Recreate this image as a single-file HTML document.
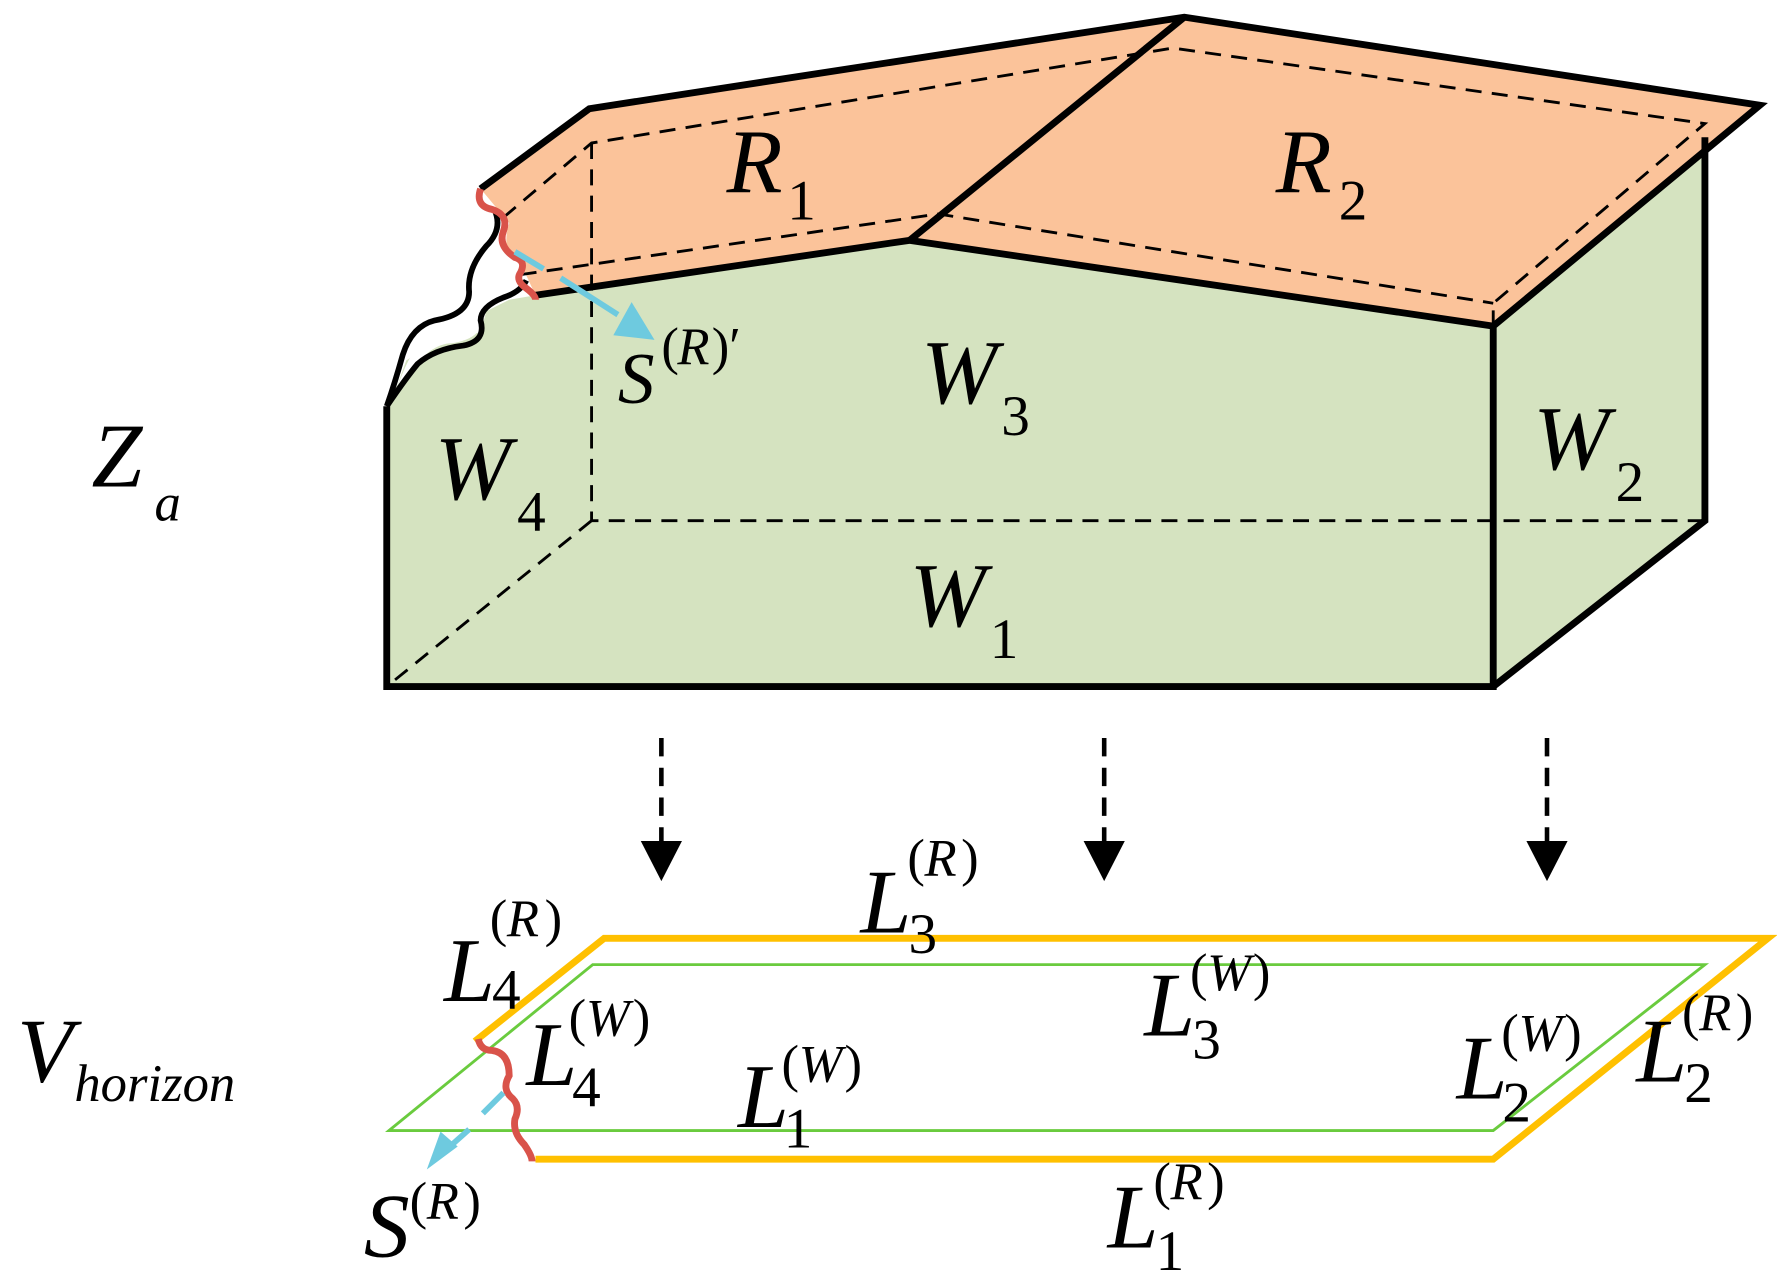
<!DOCTYPE html>
<html><head><meta charset="utf-8"><style>
html,body{margin:0;padding:0;background:#fff;}
svg{display:block;}
.m{font-style:italic;font-size:80px;}
.s{font-size:50px;}
.si{font-style:italic;font-size:46px;}
.sp{font-size:46px;}
</style></head><body>
<svg width="1777" height="1273" viewBox="0 0 1553 1112.5" preserveAspectRatio="none">
<polygon points="338,355 338,600 1305,600 1490,455 1490,118 1305,285 795,210 468,258 445,262 425,272 420,290 395,298 370,305 355,315 348,335" fill="#d5e3c0"/>
<polygon points="420,165 515,95 1035,15 1538,92 1305,285 795,210 468,258 455,230 440,210 445,195" fill="#fbc39a"/>
<path d="M420,170 Q445,190 432,205 Q395,240 405,262 Q410,290 370,300 Q358,305 345,345 L355,330 Q375,300 395,300 Q425,295 420,275 Q430,260 455,250 L445,225 Q440,210 445,195 Z" fill="#fff"/>
<g stroke="#000" stroke-width="6" fill="none">
<polyline points="420,165 515,95 1035,15 1538,92 1305,285 1305,600 338,600 338,355"/>
<polyline points="1305,600 1490,455 1490,120"/>
<polyline points="1305,285 795,210 468,258"/>
<line x1="1035" y1="15" x2="795" y2="210"/>
<path d="M338,355 Q345,335 352,310 Q360,285 380,280 Q410,275 410,255 Q408,235 425,215 Q440,200 432,183" stroke-width="5"/>
<path d="M338,355 Q355,330 365,318 Q380,305 405,302 Q425,298 420,280 Q420,268 440,260 Q455,255 460,245" stroke-width="5"/>
</g>
<g stroke="#000" stroke-width="2.5" fill="none" stroke-dasharray="14,9">
<polyline points="440,190 517,125 1025,42 1490,108 1305,265 1305,285"/>
<polyline points="455,240 820,187 1305,265"/>
<polyline points="517,125 517,455 1490,455"/>
<line x1="517" y1="455" x2="338" y2="600"/>
</g>
<path d="M420,165 Q415,180 430,183 Q445,188 440,202 Q435,215 450,225 Q460,228 455,238 Q450,245 460,252 Q468,258 468,262" stroke="#d9534a" stroke-width="6" fill="none"/>
<line x1="450" y1="220" x2="475" y2="235" stroke="#6ecadf" stroke-width="5"/>
<line x1="490" y1="243" x2="540" y2="275" stroke="#6ecadf" stroke-width="5"/>
<polygon points="572,297 536,293 552,264" fill="#6ecadf"/>
<g font-family="Liberation Serif, Times New Roman, DejaVu Serif, serif">
<text class="m" x="635" y="168">R</text><text class="s" x="688" y="192">1</text>
<text class="m" x="1115" y="168">R</text><text class="s" x="1170" y="192">2</text>
<text class="m" x="805" y="352">W</text><text class="s" x="875" y="380">3</text>
<text class="m" x="1340" y="410">W</text><text class="s" x="1412" y="438">2</text>
<text class="m" x="380" y="436">W</text><text class="s" x="452" y="464">4</text>
<text class="m" x="795" y="547">W</text><text class="s" x="865" y="575">1</text>
<text class="m" x="80" y="425">Z</text><text class="si" x="135" y="455">a</text>
<text class="m" x="540" y="352" style="font-size:64px">S</text><text class="sp" x="578" y="318">(</text><text class="si" x="592" y="318">R</text><text class="sp" x="622" y="318">)′</text>
</g>
<g stroke="#000" stroke-width="4" stroke-dasharray="16,10">
<line x1="578" y1="645" x2="578" y2="735"/><line x1="965" y1="645" x2="965" y2="735"/><line x1="1352" y1="645" x2="1352" y2="735"/>
</g>
<g fill="#000">
<polygon points="560,735 596,735 578,770"/><polygon points="947,735 983,735 965,770"/><polygon points="1334,735 1370,735 1352,770"/>
</g>
<polyline points="415,910 528,820 1545,820 1305,1013 468,1013" stroke="#ffc000" stroke-width="6" fill="none"/>
<polygon points="340,988 518,843 1490,843 1305,988" stroke="#6acb3e" stroke-width="2.5" fill="none"/>
<path d="M418,908 Q420,918 430,918 Q445,920 445,940 Q438,952 448,960 Q455,967 450,978 Q448,990 458,1000 Q465,1010 465,1015" stroke="#d9534a" stroke-width="6" fill="none"/>
<line x1="440" y1="955" x2="422" y2="973" stroke="#6ecadf" stroke-width="5"/>
<line x1="410" y1="987" x2="392" y2="1003" stroke="#6ecadf" stroke-width="5"/>
<polygon points="400,1002 373,1022 385,989" fill="#6ecadf"/>
<g font-family="Liberation Serif, Times New Roman, DejaVu Serif, serif">
<text class="m" x="15" y="945">V</text><text class="si" x="65" y="962">horizon</text>
<text class="m" x="388" y="875">L</text><text class="s" x="430" y="882">4</text><text class="sp" x="428" y="818">(</text><text class="si" x="443" y="818">R</text><text class="sp" x="476" y="818">)</text>
<text class="m" x="752" y="815">L</text><text class="s" x="794" y="833">3</text><text class="sp" x="793" y="765">(</text><text class="si" x="808" y="765">R</text><text class="sp" x="840" y="765">)</text>
<text class="m" x="460" y="948">L</text><text class="s" x="500" y="967">4</text><text class="sp" x="497" y="905">(</text><text class="si" x="512" y="905">W</text><text class="sp" x="553" y="905">)</text>
<text class="m" x="645" y="985">L</text><text class="s" x="685" y="1003">1</text><text class="sp" x="683" y="945">(</text><text class="si" x="698" y="945">W</text><text class="sp" x="738" y="945">)</text>
<text class="m" x="1000" y="905">L</text><text class="s" x="1042" y="925">3</text><text class="sp" x="1040" y="865">(</text><text class="si" x="1055" y="865">W</text><text class="sp" x="1095" y="865">)</text>
<text class="m" x="1273" y="960">L</text><text class="s" x="1313" y="980">2</text><text class="sp" x="1312" y="918">(</text><text class="si" x="1327" y="918">W</text><text class="sp" x="1367" y="918">)</text>
<text class="m" x="1430" y="945">L</text><text class="s" x="1472" y="963">2</text><text class="sp" x="1470" y="900">(</text><text class="si" x="1485" y="900">R</text><text class="sp" x="1517" y="900">)</text>
<text class="m" x="968" y="1090">L</text><text class="s" x="1010" y="1110">1</text><text class="sp" x="1008" y="1048">(</text><text class="si" x="1023" y="1048">R</text><text class="sp" x="1055" y="1048">)</text>
<text class="m" x="318" y="1098">S</text><text class="sp" x="358" y="1065">(</text><text class="si" x="373" y="1065">R</text><text class="sp" x="405" y="1065">)</text>
</g>
</svg>
</body></html>
